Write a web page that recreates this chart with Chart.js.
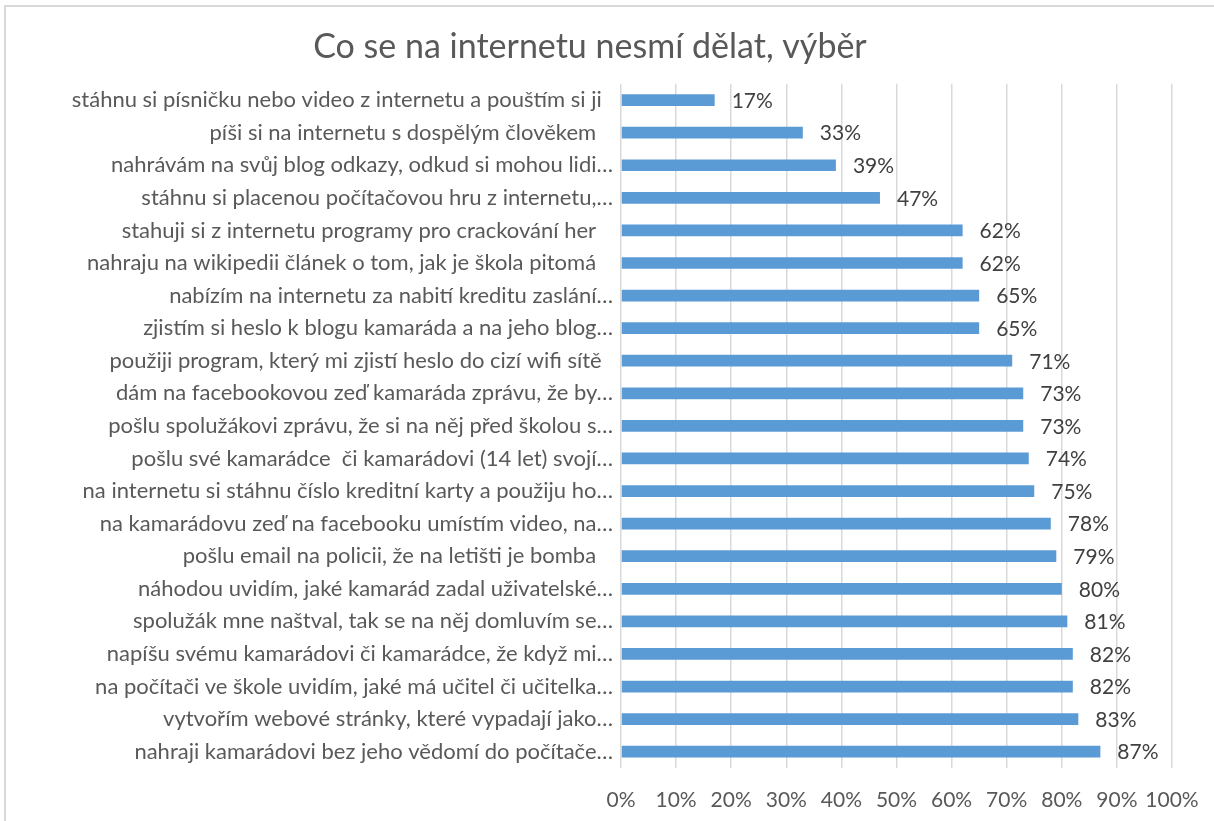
<!DOCTYPE html>
<html>
<head>
<meta charset="utf-8">
<script src="https://cdn.jsdelivr.net/npm/chart.js@4.4.1/dist/chart.umd.min.js"></script>
<style>
  html, body { margin: 0; padding: 0; background: #fff; overflow: hidden; }
  #frame { position: absolute; left: 4px; top: 5px; width: 1212px; height: 840px; border: 2px solid #d9d9d9; box-sizing: border-box; }
  #wrap { position: absolute; left: 0; top: 0; width: 1214px; height: 821px; }
</style>
</head>
<body>
<div id="frame"></div>
<div id="wrap"><canvas id="myChart"></canvas></div>
<script>
var categories = [
    "stáhnu si písničku nebo video z internetu a pouštím si ji  ",
    "píši si na internetu s dospělým člověkem   ",
    "nahrávám na svůj blog odkazy, odkud si mohou lidi…",
    "stáhnu si placenou počítačovou hru z internetu,…",
    "stahuji si z internetu programy pro crackování her   ",
    "nahraju na wikipedii článek o tom, jak je škola pitomá   ",
    "nabízím na internetu za nabití kreditu zaslání…",
    "zjistím si heslo k blogu kamaráda a na jeho blog…",
    "použiji program, který mi zjistí heslo do cizí wifi sítě  ",
    "dám na facebookovou zeď kamaráda zprávu, že by…",
    "pošlu spolužákovi zprávu, že si na něj před školou s…",
    "pošlu své kamarádce  či kamarádovi (14 let) svojí…",
    "na internetu si stáhnu číslo kreditní karty a použiju ho…",
    "na kamarádovu zeď na facebooku umístím video, na…",
    "pošlu email na policii, že na letišti je bomba   ",
    "náhodou uvidím, jaké kamarád zadal uživatelské…",
    "spolužák mne naštval, tak se na něj domluvím se…",
    "napíšu svému kamarádovi či kamarádce, že když mi…",
    "na počítači ve škole uvidím, jaké má učitel či učitelka…",
    "vytvořím webové stránky, které vypadají jako…",
    "nahraji kamarádovi bez jeho vědomí do počítače…"
];
var values = [17, 33, 39, 47, 62, 62, 65, 65, 71, 73, 73, 74, 75, 78, 79, 80, 81, 82, 82, 83, 87];
var tickValues = [0, 10, 20, 30, 40, 50, 60, 70, 80, 90, 100];

var fontFam = "Lato, 'Open Sans', sans-serif";

// value labels to the right of each bar
var barLabels = {
    id: 'barLabels',
    afterDatasetsDraw(chart) {
        let c = chart.ctx;
        let meta = chart.getDatasetMeta(0);
        c.save();
        c.font = "21px " + fontFam;
        c.fillStyle = "#404040";
        c.textAlign = "left";
        c.textBaseline = "middle";
        meta.data.forEach((bar, i) => {
            c.fillText(values[i] + "%", bar.x + 17, bar.y + 1);
        });
        c.restore();
    }
};

var ctx = document.getElementById('myChart');
var myChart = new Chart(ctx, {
    type: 'bar',
    data: {
        labels: categories,
        datasets: [{
            data: values,
            backgroundColor: "#5b9bd5",
            barPercentage: 0.36,
            categoryPercentage: 1
        }]
    },
    plugins: [barLabels],
    options: {
        indexAxis: 'y',
        responsive: true,
        maintainAspectRatio: false,
        animation: false,
        layout: { padding: { left: 8, right: 42, top: 0, bottom: 0 } },
        plugins: {
            legend: { display: false },
            tooltip: { enabled: false },
            title: {
                display: true,
                text: 'Co se na internetu nesmí dělat, výběr',
                color: '#595959',
                font: { family: fontFam, size: 34, weight: 'normal' },
                padding: { top: 27, bottom: 16 }
            }
        },
        scales: {
            x: {
                min: 0,
                max: 100,
                afterBuildTicks: (s) => { s.ticks = tickValues.map(v => ({ value: v })); },
                afterFit: (s) => { s.height = 53; s.paddingLeft = 0; s.paddingRight = 0; },
                grid: { color: '#d9d9d9', lineWidth: 1.5, drawTicks: false },
                border: { display: false },
                ticks: {
                    color: '#595959',
                    font: { family: fontFam, size: 21 },
                    padding: 20,
                    maxRotation: 0,
                    autoSkip: false,
                    callback: (v) => v + '%'
                }
            },
            y: {
                afterFit: (s) => { s.width = 613; },
                grid: { display: false, drawTicks: false },
                border: { display: false },
                ticks: {
                    color: '#595959',
                    font: { family: fontFam, size: 22 },
                    padding: 8,
                    autoSkip: false
                }
            }
        }
    }
});
</script>
</body>
</html>
